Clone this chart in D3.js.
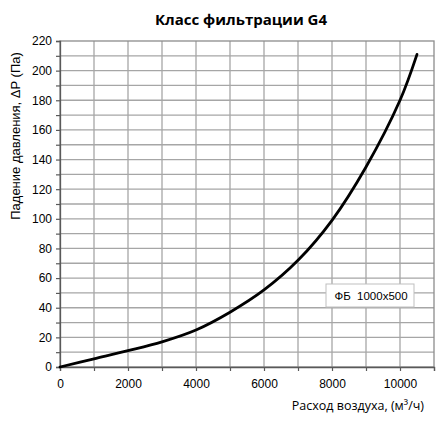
<!DOCTYPE html>
<meta charset="utf-8">
<style>
    body { margin: 0; background: #ffffff; }
    svg { display: block; }
</style>

<script src="https://d3js.org/d3.v7.min.js"></script>

<svg id="chart" width="443" height="422"></svg>

<script>

// Data
var airFlow  = [0, 1000, 2000, 3000, 4000, 5000, 6000, 7000, 8000, 9000, 10000, 10500];
var pressure = [0, 5.5, 11, 17, 25, 37, 52, 72, 99, 135, 180, 211];

var xTicks = [0, 2000, 4000, 6000, 8000, 10000];
var yTicks = [0, 20, 40, 60, 80, 100, 120, 140, 160, 180, 200, 220];

var titleText  = 'Класс фильтрации G4';
var xLabelText = 'Расход воздуха, (м³/ч)';
var yLabelText = 'Падение давления, ΔP (Па)';
var legendText = 'ФБ  1000x500';


// Setup

var svg = d3.select('svg#chart');

var plot = { left: 60, right: 434, top: 41, bottom: 367 };

var x = d3.scaleLinear().domain([0, 11000]).range([plot.left, plot.right]);
var y = d3.scaleLinear().domain([0, 220]).range([plot.bottom, plot.top]);

var gridColor = '#a6a6a6';


// Grid: vertical lines every 1000, horizontal every 10
svg.append('g')
    .selectAll('line')
    .data(d3.range(1000, 11000, 1000))
    .enter().append('line')
    .attr('x1', function(d) { return x(d); })
    .attr('x2', function(d) { return x(d); })
    .attr('y1', plot.top)
    .attr('y2', plot.bottom)
    .attr('stroke', gridColor)
    .attr('stroke-width', 1.3);

svg.append('g')
    .selectAll('line')
    .data(d3.range(10, 220, 10))
    .enter().append('line')
    .attr('x1', plot.left)
    .attr('x2', plot.right)
    .attr('y1', function(d) { return y(d); })
    .attr('y2', function(d) { return y(d); })
    .attr('stroke', gridColor)
    .attr('stroke-width', 1.3);

// Plot border
svg.append('rect')
    .attr('x', plot.left)
    .attr('y', plot.top)
    .attr('width', plot.right - plot.left)
    .attr('height', plot.bottom - plot.top)
    .attr('fill', 'none')
    .attr('stroke', '#8c8c8c')
    .attr('stroke-width', 1.3);


// Axes
var xAxis = d3.axisBottom(x)
    .tickValues(d3.range(0, 12000, 1000))
    .tickSize(4)
    .tickFormat(function(d) { return xTicks.indexOf(d) >= 0 ? d : ''; });

var yAxis = d3.axisLeft(y)
    .tickValues(d3.range(0, 230, 10))
    .tickSize(4)
    .tickFormat(function(d) { return yTicks.indexOf(d) >= 0 ? d : ''; });

var gx = svg.append('g')
    .attr('transform', 'translate(0,' + plot.bottom + ')')
    .call(xAxis);

var gy = svg.append('g')
    .attr('transform', 'translate(' + plot.left + ',0)')
    .call(yAxis);

[gx, gy].forEach(function(g) {
    g.select('.domain').attr('stroke', '#595959').attr('stroke-width', 1.3);
    g.selectAll('.tick line').attr('stroke', '#595959').attr('stroke-width', 1.2);
    g.selectAll('.tick text')
        .attr('fill', '#000')
        .style('font-family', '"Liberation Sans", Arial, sans-serif')
        .style('font-size', '12px');
});
gx.selectAll('.tick text').attr('dy', '1.2em');
gy.selectAll('.tick text').attr('x', -8);


// Curve
var line = d3.line()
    .x(function(d) { return x(d[0]); })
    .y(function(d) { return y(d[1]); })
    .curve(d3.curveCatmullRom.alpha(0.5));

svg.append('path')
    .datum(d3.zip(airFlow, pressure))
    .attr('d', line)
    .attr('fill', 'none')
    .attr('stroke', '#000')
    .attr('stroke-width', 2.8)
    .attr('stroke-linecap', 'round');


// Legend box
var legend = svg.append('g');
legend.append('rect')
    .attr('x', 326)
    .attr('y', 284)
    .attr('width', 88)
    .attr('height', 23)
    .attr('fill', '#fff')
    .attr('stroke', '#bfbfbf')
    .attr('stroke-width', 1);
legend.append('text')
    .attr('x', 371)
    .attr('y', 300)
    .attr('text-anchor', 'middle')
    .style('font-family', '"Liberation Sans", Arial, sans-serif')
    .style('font-size', '11.5px')
    .style('white-space', 'pre')
    .text(legendText);


// Titles
svg.append('text')
    .attr('x', 241)
    .attr('y', 25)
    .attr('text-anchor', 'middle')
    .style('font-family', '"Open Sans", "Noto Sans", sans-serif')
    .style('font-weight', 'bold')
    .style('font-size', '15px')
    .text(titleText);

svg.append('text')
    .attr('x', 424)
    .attr('y', 410)
    .attr('text-anchor', 'end')
    .style('font-family', '"Open Sans", "Noto Sans", sans-serif')
    .style('font-size', '12.5px')
    .text(xLabelText);

svg.append('text')
    .attr('transform', 'translate(20,136) rotate(-90)')
    .attr('text-anchor', 'middle')
    .style('font-family', '"Liberation Sans", Arial, sans-serif')
    .style('font-size', '13px')
    .text(yLabelText);

</script>
